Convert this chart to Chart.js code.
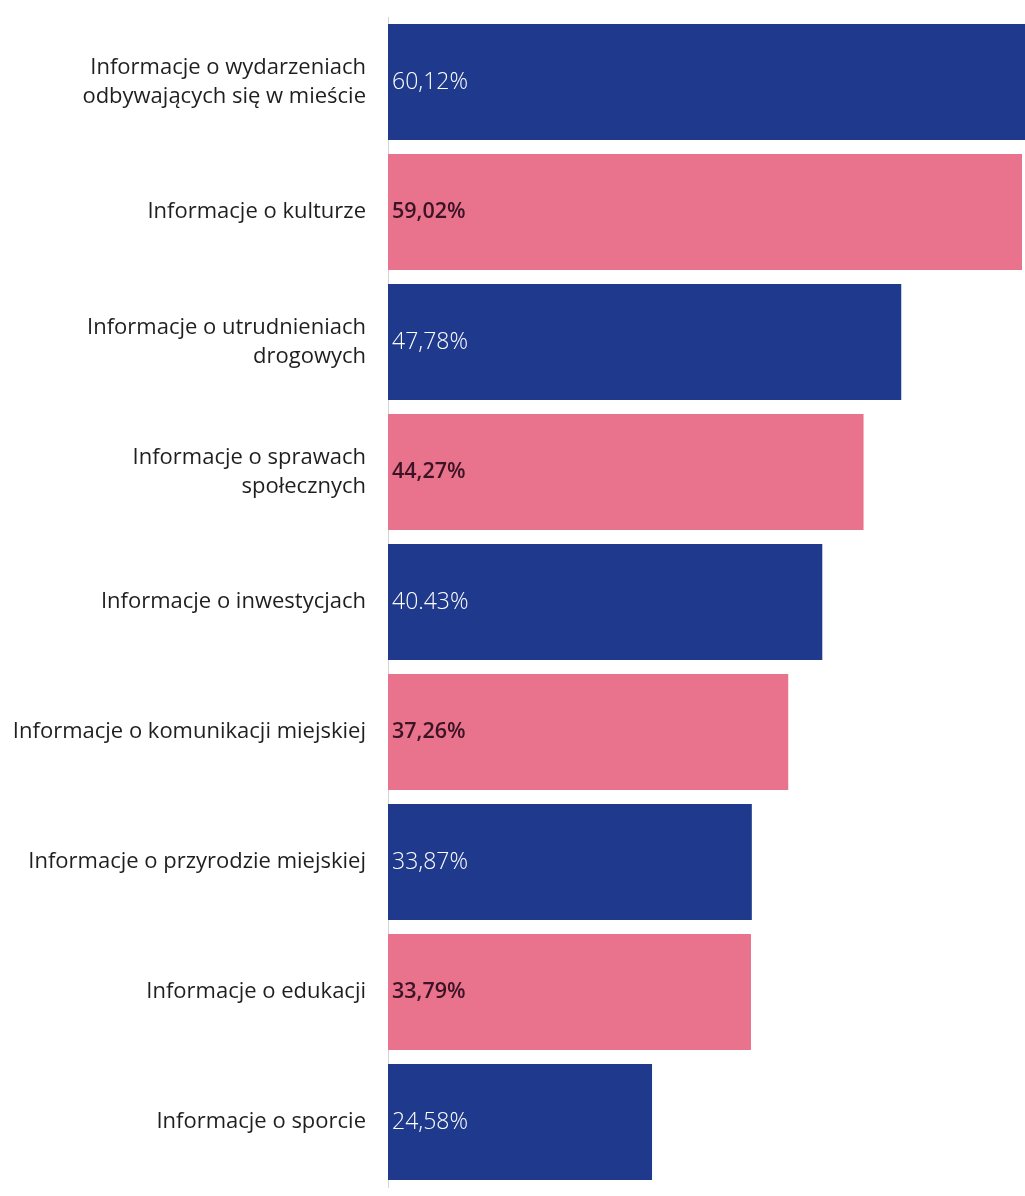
<!DOCTYPE html>
<html>
<head>
<meta charset="utf-8">
<script src="https://cdn.jsdelivr.net/npm/chart.js@4.4.1/dist/chart.umd.min.js"></script>
<style>
    body { margin: 0; background: #fff; }
    #wrap { width: 1025px; height: 1196px; position: relative; }
</style>
</head>
<body>
<div id="wrap"><canvas id="infoChart"></canvas></div>
<script>
const categories = [
    ['Informacje o wydarzeniach', 'odbywających się w mieście'],
    'Informacje o kulturze',
    ['Informacje o utrudnieniach', 'drogowych'],
    ['Informacje o sprawach', 'społecznych'],
    'Informacje o inwestycjach',
    'Informacje o komunikacji miejskiej',
    'Informacje o przyrodzie miejskiej',
    'Informacje o edukacji',
    'Informacje o sporcie'
];
const values = [60.12, 59.02, 47.78, 44.27, 40.43, 37.26, 33.87, 33.79, 24.58];
const valueLabels = ['60,12%', '59,02%', '47,78%', '44,27%', '40.43%', '37,26%', '33,87%', '33,79%', '24,58%'];

const blue = '#1f3a8c';
const pink = '#e9728c';
const barColors = values.map((v, i) => i % 2 === 0 ? blue : pink);

// value text drawn at the start of each bar
const valueLabelPlugin = {
    id: 'valueLabels',
    afterDatasetsDraw(chart) {
        const ctx = chart.ctx;
        const meta = chart.getDatasetMeta(0);
        ctx.save();
        ctx.textBaseline = 'middle';
        ctx.textAlign = 'left';
        meta.data.forEach((bar, i) => {
            if (i % 2 === 0) {
                ctx.fillStyle = '#ffffff';
                ctx.font = '300 23px "Open Sans"';
            } else {
                ctx.fillStyle = '#3a1424';
                ctx.font = '600 21.5px "Open Sans"';
            }
            ctx.fillText(valueLabels[i], bar.base + 4, bar.y);
        });
        ctx.restore();
    }
};

document.addEventListener('DOMContentLoaded', function () {
    const ctx = document.getElementById('infoChart');
    new Chart(ctx, {
        type: 'bar',
        data: {
            labels: categories,
            datasets: [{
                data: values,
                backgroundColor: barColors,
                borderWidth: 0,
                barPercentage: 0.9,
                categoryPercentage: 0.99
            }]
        },
        options: {
            indexAxis: 'y',
            responsive: true,
            maintainAspectRatio: false,
            animation: false,
            layout: {
                padding: { top: 17, bottom: 9, left: 0, right: 0 }
            },
            plugins: {
                legend: { display: false },
                tooltip: { enabled: false }
            },
            scales: {
                x: {
                    display: false,
                    min: 0,
                    max: 59.3
                },
                y: {
                    afterFit(scale) {
                        scale.width = 388;
                        scale.paddingTop = 0;
                        scale.paddingBottom = 0;
                    },
                    grid: { display: false, drawTicks: false },
                    border: { display: true, color: '#d4d4d4', width: 1 },
                    ticks: {
                        color: '#1f1f1f',
                        padding: 22,
                        font: { family: '"Open Sans"', size: 22, lineHeight: 1.34 }
                    }
                }
            }
        },
        plugins: [valueLabelPlugin]
    });
});
</script>
</body>
</html>
